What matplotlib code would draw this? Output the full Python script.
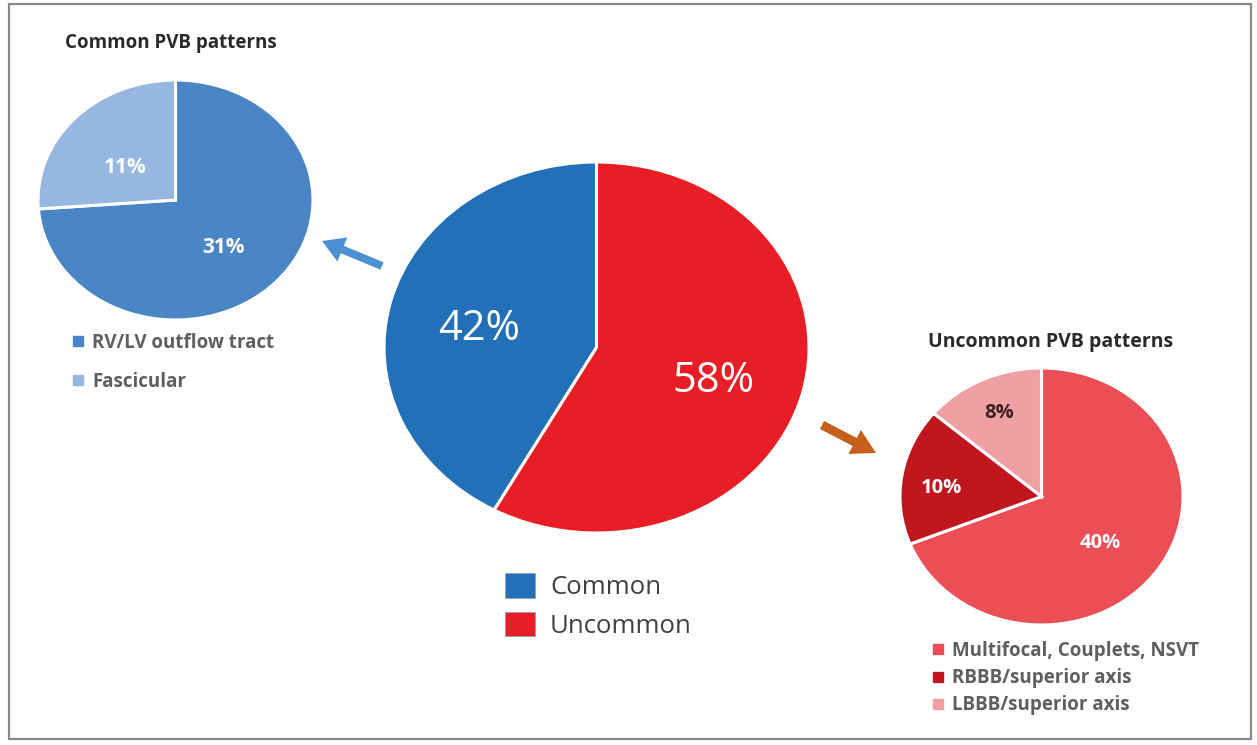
import numpy as np
import matplotlib
matplotlib.use("Agg")
import matplotlib.pyplot as plt
from matplotlib.patches import Rectangle, Patch
from matplotlib.lines import Line2D

plt.rcParams['font.family'] = ['Open Sans', 'DejaVu Sans']

# ---- data ----
main_labels = ["Common", "Uncommon"]
main_values = [42, 58]

common_labels = ["RV/LV outflow tract", "Fascicular"]
common_values = [31, 11]

uncommon_labels = ["Multifocal, Couplets, NSVT", "RBBB/superior axis", "LBBB/superior axis"]
uncommon_values = [40, 10, 8]

common_title = "Common PVB patterns"
uncommon_title = "Uncommon PVB patterns"

# ---- style ----
main_colors = ["#2270b7", "#e91d25"]
common_colors = ["#4a86c6", "#95b7e0"]
uncommon_colors = ["#eb4e54", "#c0171f", "#f0a0a3"]

W, H = 1257, 745
fig = plt.figure(figsize=(W / 100, H / 100), dpi=100)
fig.patch.set_facecolor("white")


def box(x0, y0, x1, y1):
    return [x0 / W, 1 - y1 / H, (x1 - x0) / W, (y1 - y0) / H]


# overlay in pixel coordinates
ov = fig.add_axes([0, 0, 1, 1])
ov.set_xlim(0, W)
ov.set_ylim(H, 0)
ov.axis("off")
ov.add_patch(Rectangle((9, 4), 1242, 735, fill=False, edgecolor="#8a8a8a", lw=1.6))

# arrows
ov.arrow(382, 266, 322 - 382, 241 - 266, width=8, head_width=26, head_length=22,
         length_includes_head=True, color="#4d90d2", lw=0)
ov.arrow(822, 425, 876 - 822, 453 - 425, width=9, head_width=27, head_length=24,
         length_includes_head=True, color="#c6601c", lw=0)


def draw_pie(rect, values, colors, start, ccw, label_r, label_dy, fontsize,
             text_colors, weight):
    ax = fig.add_axes(rect)
    wedges, _ = ax.pie(values, colors=colors, startangle=start, counterclock=ccw,
                       wedgeprops=dict(edgecolor="white", linewidth=2.2))
    ax.set_aspect("auto")
    ax.set_xlim(-1.0, 1.0)
    ax.set_ylim(-1.0, 1.0)
    ax.axis("off")
    for w, v, r, dy, tc in zip(wedges, values, label_r, label_dy, text_colors):
        mid = np.deg2rad((w.theta1 + w.theta2) / 2)
        ax.text(r * np.cos(mid), r * np.sin(mid) + dy, f"{v}%", ha="center", va="center",
                color=tc, fontsize=fontsize, fontweight=weight)
    return ax, wedges


# main pie
draw_pie(box(384, 162, 809, 533), main_values, main_colors, 90, True,
         [0.57, 0.57], [-0.04, -0.04], 30, ["white", "white"], "normal")
# common pie
draw_pie(box(38, 80, 313, 320), common_values, common_colors, 90, False,
         [0.48, 0.5], [-0.07, -0.07], 15, ["white", "white"], "bold")
# uncommon pie
draw_pie(box(900, 368, 1183, 625), uncommon_values, uncommon_colors, 90, False,
         [0.5, 0.72, 0.72], [-0.08, -0.05, 0.0], 14.5, ["white", "white", "#3a2222"], "bold")

# titles
fig.text(65 / W, 1 - 43 / H, common_title, ha="left", va="center", fontsize=13.5,
         fontweight="bold", color="#2a2a2a")
fig.text(928 / W, 1 - 342 / H, uncommon_title, ha="left", va="center", fontsize=14,
         fontweight="bold", color="#2a2a2a")

# legends
main_handles = [Patch(facecolor=c, edgecolor="#9aa0b0", lw=0.6) for c in main_colors]
leg = fig.legend(main_handles, main_labels, loc="upper left",
                 bbox_to_anchor=(505 / W, 1 - 573 / H), frameon=False, fontsize=18.5,
                 handlelength=1.15, handleheight=1.1, handletextpad=0.6,
                 labelspacing=0.45, borderpad=0, borderaxespad=0)
for t in leg.get_texts():
    t.set_color("#404040")

c_handles = [Line2D([], [], marker="s", ls="", markersize=6.5, color=c) for c in common_colors]
leg_c = fig.legend(c_handles, common_labels, loc="upper left",
                   bbox_to_anchor=(70 / W, 1 - 333 / H), frameon=False, fontsize=13.5,
                   handlelength=0.8, handletextpad=0.4, labelspacing=1.0,
                   borderpad=0, borderaxespad=0)
for t in leg_c.get_texts():
    t.set_color("#5f5f5f")
    t.set_fontweight("bold")

u_handles = [Line2D([], [], marker="s", ls="", markersize=6.5, color=c) for c in uncommon_colors]
leg_u = fig.legend(u_handles, uncommon_labels, loc="upper left",
                   bbox_to_anchor=(930 / W, 1 - 641 / H), frameon=False, fontsize=13.5,
                   handlelength=0.8, handletextpad=0.4, labelspacing=0.38,
                   borderpad=0, borderaxespad=0)
for t in leg_u.get_texts():
    t.set_color("#5f5f5f")
    t.set_fontweight("bold")

fig.savefig("out.png", dpi=100, facecolor="white")
